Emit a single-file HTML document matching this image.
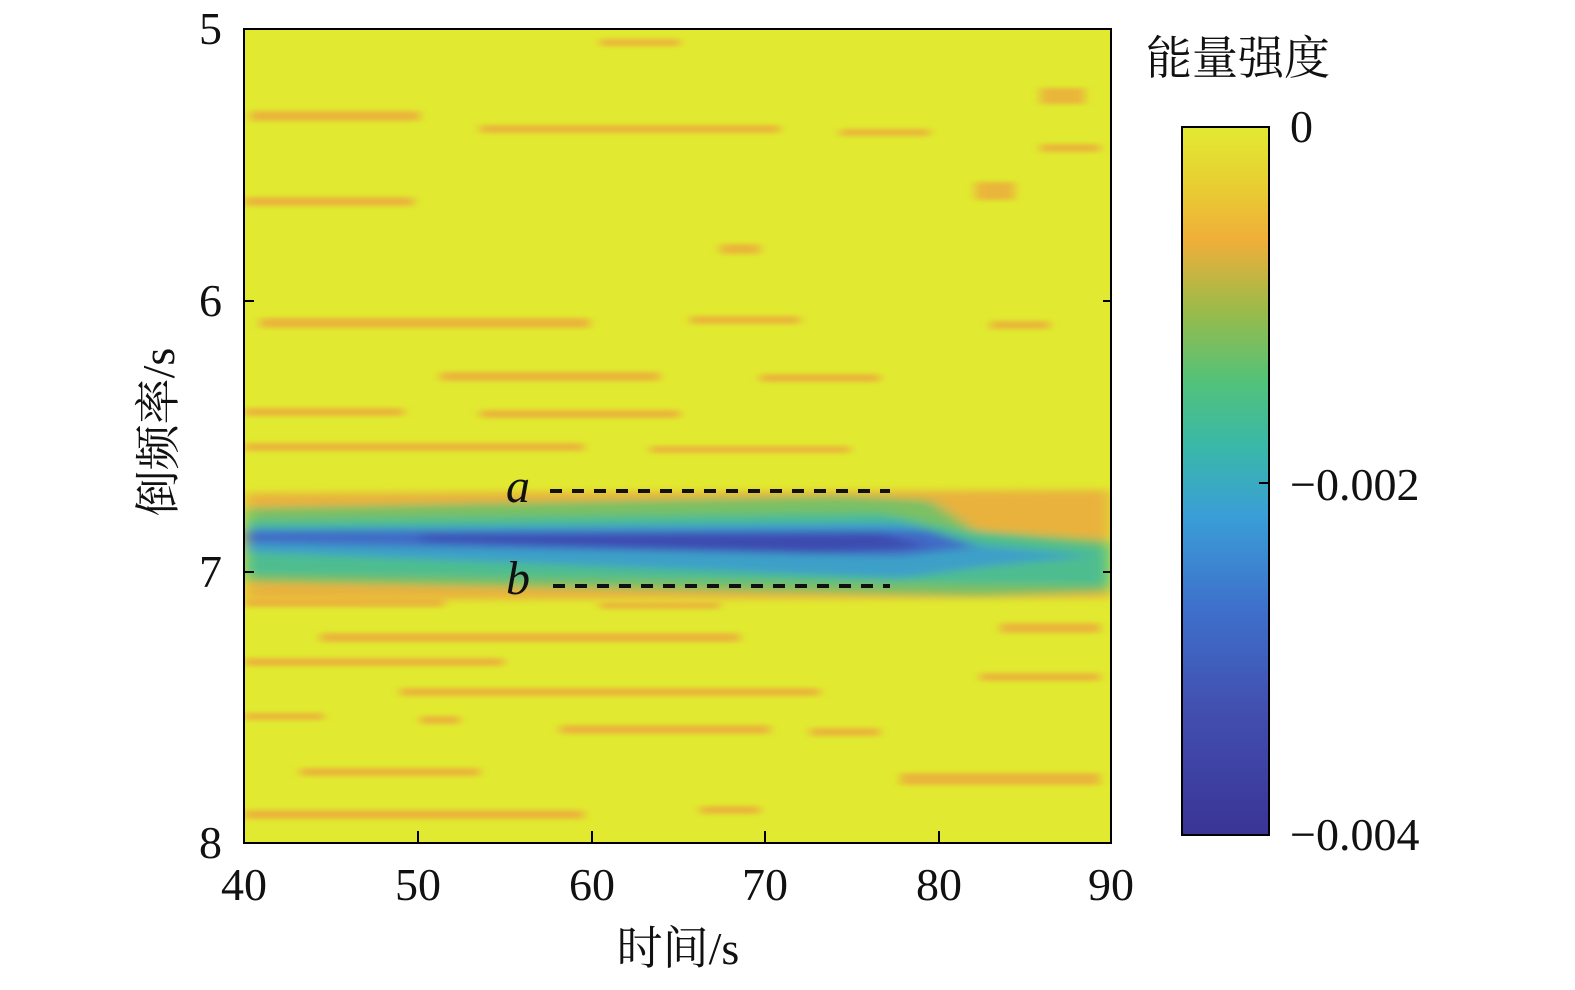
<!DOCTYPE html>
<html><head><meta charset="utf-8"><style>
body{margin:0;background:#fff;width:1575px;height:985px;overflow:hidden;font-family:"Liberation Serif","Noto Serif CJK SC",serif}
</style></head><body>
<svg width="1575" height="985" xmlns="http://www.w3.org/2000/svg">
<defs>
<filter id="b" x="-20%" y="-200%" width="140%" height="500%"><feGaussianBlur stdDeviation="5 2.5"/></filter>
<filter id="b2" x="-20%" y="-100%" width="140%" height="300%"><feGaussianBlur stdDeviation="8 4"/></filter>
<clipPath id="c"><rect x="244" y="29" width="867" height="814"/></clipPath>
<linearGradient id="cb" x1="0" y1="0" x2="0" y2="1">
<stop offset="0" stop-color="#e2ea32"/><stop offset="0.08" stop-color="#e8cf32"/><stop offset="0.16" stop-color="#f0ae3a"/><stop offset="0.26" stop-color="#9abb4a"/><stop offset="0.36" stop-color="#52c27a"/><stop offset="0.45" stop-color="#3ab8a8"/><stop offset="0.55" stop-color="#3a9ed6"/><stop offset="0.68" stop-color="#3e70cc"/><stop offset="0.82" stop-color="#4250b0"/><stop offset="1" stop-color="#3a3496"/>
</linearGradient>
</defs>
<g clip-path="url(#c)">
<rect x="244" y="29" width="867" height="814" fill="#e1ea30"/>
<g filter="url(#b)" fill="#eab53a">
<rect x="250" y="111" width="170" height="10"/><rect x="480" y="125" width="300" height="8"/><rect x="840" y="129" width="90" height="7"/>
<rect x="244" y="197" width="170" height="9"/><rect x="720" y="244" width="40" height="10"/><rect x="1040" y="88" width="45" height="16"/>
<rect x="975" y="182" width="40" height="18"/><rect x="1040" y="144" width="60" height="8"/>
<rect x="260" y="318" width="330" height="10"/><rect x="690" y="316" width="110" height="8"/><rect x="990" y="321" width="60" height="8"/>
<rect x="440" y="372" width="220" height="9"/><rect x="760" y="374" width="120" height="8"/><rect x="244" y="408" width="160" height="8"/>
<rect x="480" y="410" width="200" height="8"/><rect x="244" y="443" width="340" height="8"/><rect x="650" y="446" width="200" height="7"/>
<rect x="244" y="598" width="200" height="9"/><rect x="600" y="602" width="120" height="7"/><rect x="320" y="633" width="420" height="9"/>
<rect x="1000" y="623" width="100" height="10"/><rect x="244" y="658" width="260" height="8"/><rect x="980" y="673" width="120" height="8"/>
<rect x="400" y="688" width="420" height="8"/><rect x="244" y="713" width="80" height="7"/><rect x="420" y="716" width="40" height="8"/>
<rect x="560" y="725" width="210" height="9"/><rect x="810" y="728" width="70" height="8"/><rect x="300" y="768" width="180" height="8"/>
<rect x="900" y="773" width="200" height="12"/><rect x="244" y="810" width="340" height="9"/><rect x="700" y="806" width="60" height="8"/><rect x="600" y="39" width="80" height="7"/>
</g>
<g filter="url(#b2)">
<path d="M244 493 L1111 490 L1111 598 L244 600 Z" fill="#e9b23c"/>
<path d="M244 508 L840 496 L930 500 L975 530 L1111 540 L1111 592 L980 596 L244 582 Z" fill="#7cc063"/>
<path d="M244 520 L880 512 L970 532 L1111 548 L1111 585 L970 584 L244 574 Z" fill="#4ebd90"/>
<path d="M244 528 L900 522 L980 545 L1090 556 L990 566 L900 578 L244 552 Z" fill="#3ca0c8"/>
<path d="M244 531 L930 530 L975 547 L900 556 L244 543 Z" fill="#3f6cc6"/>
<path d="M420 535 L880 533 L930 547 L820 553 L420 541 Z" fill="#3e4cb0"/>
</g>
</g>
<g stroke="#000" stroke-width="2" fill="none">
<path d="M244 29V843H1111V29Z"/>
<path d="M244 301h10M244 572h10M1111 301h-8M1111 572h-8M418 843v-12M592 843v-12M765 843v-12M939 843v-12"/>
</g>
<g stroke="#111" stroke-width="4" stroke-dasharray="12 10">
<path d="M550 491H890"/><path d="M553 586H890"/>
</g>
<g font-size="48" font-style="italic" fill="#111"><text x="506" y="502">a</text><text x="506" y="594">b</text></g>
<g font-size="46" fill="#111">
<text x="222" y="44" text-anchor="end">5</text><text x="222" y="316" text-anchor="end">6</text><text x="222" y="587" text-anchor="end">7</text><text x="222" y="858" text-anchor="end">8</text>
<g text-anchor="middle"><text x="244" y="900">40</text><text x="418" y="900">50</text><text x="592" y="900">60</text><text x="765" y="900">70</text><text x="939" y="900">80</text><text x="1111" y="900">90</text></g>
<text x="678" y="964" text-anchor="middle">时间/s</text>
<text transform="translate(174 432) rotate(-90)" text-anchor="middle">倒频率/s</text>
<text x="1146" y="74">能量强度</text>
<text x="1290" y="142">0</text><text x="1290" y="500">−0.002</text><text x="1290" y="850">−0.004</text>
</g>
<rect x="1182" y="127" width="87" height="708" fill="url(#cb)" stroke="#000" stroke-width="2"/>
<path d="M1269 483h-10" stroke="#000" stroke-width="2"/>
</svg>
</body></html>
